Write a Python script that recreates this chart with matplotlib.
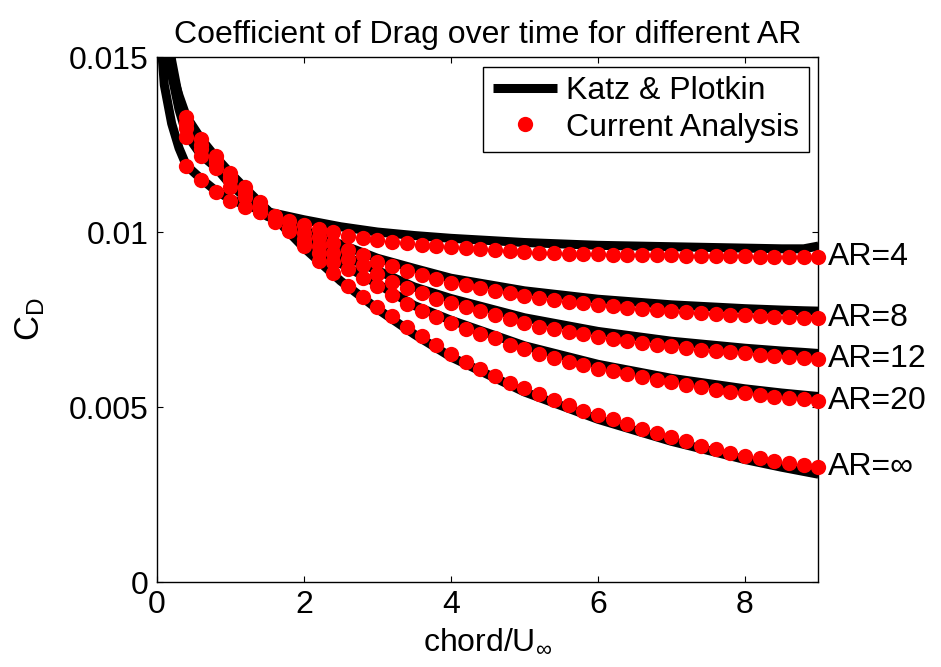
import numpy as np
import matplotlib
matplotlib.use("Agg")
import matplotlib.pyplot as plt

plt.rcParams['font.family'] = ['Liberation Sans', 'DejaVu Sans']
plt.rcParams['mathtext.fontset'] = 'custom'
plt.rcParams['mathtext.rm'] = 'Liberation Sans'
plt.rcParams['mathtext.it'] = 'Liberation Sans'
plt.rcParams['mathtext.bf'] = 'Liberation Sans'

# current analysis (markers), time = chord/U_inf
t_pts = np.round(np.arange(0.4, 9.01, 0.2), 2)

cd_ar4 = [0.01190, 0.01150, 0.01115, 0.01090, 0.01072, 0.01056, 0.01043, 0.01032,
          0.01020, 0.01010, 0.01000, 0.00990, 0.00983, 0.00977, 0.00972, 0.00968,
          0.00964, 0.00961, 0.00958, 0.00955, 0.00951, 0.00948, 0.00945, 0.00943,
          0.00941, 0.00939, 0.00938, 0.00937, 0.00936, 0.00935, 0.00934, 0.00934,
          0.00933, 0.00933, 0.00932, 0.00932, 0.00931, 0.00931, 0.00931, 0.00930,
          0.00930, 0.00930, 0.00929, 0.00929]
cd_ar8 = [0.01272, 0.01216, 0.01184, 0.01130, 0.01100, 0.01058, 0.01030, 0.01012,
          0.00998, 0.00985, 0.00969, 0.00950, 0.00933, 0.00914, 0.00903, 0.00888,
          0.00877, 0.00865, 0.00855, 0.00848, 0.00839, 0.00831, 0.00825, 0.00817,
          0.00811, 0.00806, 0.00801, 0.00796, 0.00792, 0.00788, 0.00784, 0.00780,
          0.00777, 0.00774, 0.00771, 0.00768, 0.00766, 0.00764, 0.00762, 0.00760,
          0.00758, 0.00757, 0.00755, 0.00754]
cd_ar12 = [0.01298, 0.01238, 0.01197, 0.01148, 0.01112, 0.01070, 0.01036, 0.01003,
           0.00980, 0.00960, 0.00940, 0.00923, 0.00905, 0.00881, 0.00858, 0.00840,
           0.00825, 0.00810, 0.00798, 0.00786, 0.00775, 0.00763, 0.00751, 0.00741,
           0.00730, 0.00722, 0.00715, 0.00708, 0.00701, 0.00695, 0.00689, 0.00684,
           0.00678, 0.00673, 0.00668, 0.00664, 0.00660, 0.00657, 0.00654, 0.00650,
           0.00646, 0.00643, 0.00640, 0.00637]
cd_ar20 = [0.01312, 0.01250, 0.01205, 0.01158, 0.01120, 0.01078, 0.01042, 0.01005,
           0.00970, 0.00940, 0.00914, 0.00893, 0.00869, 0.00845, 0.00819, 0.00794,
           0.00775, 0.00756, 0.00739, 0.00724, 0.00709, 0.00696, 0.00678, 0.00665,
           0.00652, 0.00641, 0.00630, 0.00620, 0.00610, 0.00603, 0.00594, 0.00586,
           0.00578, 0.00571, 0.00564, 0.00557, 0.00550, 0.00544, 0.00540, 0.00535,
           0.00530, 0.00526, 0.00522, 0.00518]
cd_arinf = [0.01328, 0.01266, 0.01216, 0.01170, 0.01128, 0.01086, 0.01046, 0.01008,
            0.00960, 0.00918, 0.00883, 0.00847, 0.00815, 0.00786, 0.00760, 0.00730,
            0.00702, 0.00677, 0.00652, 0.00630, 0.00609, 0.00589, 0.00570, 0.00553,
            0.00536, 0.00520, 0.00505, 0.00490, 0.00477, 0.00466, 0.00451, 0.00437,
            0.00425, 0.00415, 0.00403, 0.00390, 0.00380, 0.00370, 0.00361, 0.00353,
            0.00346, 0.00339, 0.00334, 0.00329]

# Katz & Plotkin reference curves
t_kp = [0, 0.1, 0.2, 0.3, 0.4, 0.6, 0.8, 1.0, 1.2, 1.5, 2.0, 2.5, 3.0, 3.5, 4.0,
        5.0, 6.0, 7.0, 8.0, 8.5, 8.8, 9.0]
kp_ar4 = [0.0170, 0.0142, 0.0131, 0.0124, 0.0119, 0.01152, 0.01118, 0.01094, 0.01077,
          0.01058, 0.01035, 0.01015, 0.01000, 0.00990, 0.00982, 0.00970, 0.00962,
          0.00958, 0.00954, 0.00952, 0.00952, 0.00960]
kp_ar8 = [0.0250, 0.0160, 0.0145, 0.0135, 0.0128, 0.0122, 0.01185, 0.01135, 0.0110,
          0.01045, 0.01005, 0.00965, 0.00925, 0.00896, 0.00868, 0.00832, 0.00808,
          0.00792, 0.00781, 0.00777, 0.00775, 0.00774]
kp_ar12 = [0.0250, 0.0162, 0.0147, 0.0137, 0.0130, 0.01242, 0.01198, 0.0115, 0.01113,
           0.01055, 0.00985, 0.00937, 0.00890, 0.00843, 0.00810, 0.00755, 0.00716,
           0.00688, 0.00668, 0.00660, 0.00656, 0.00653]
kp_ar20 = [0.0250, 0.0164, 0.0149, 0.0138, 0.01315, 0.01252, 0.01206, 0.0116, 0.01121,
           0.01062, 0.00975, 0.00910, 0.00852, 0.00790, 0.00748, 0.00675, 0.00622,
           0.00582, 0.00552, 0.00540, 0.00534, 0.00530]
kp_arinf = [0.0260, 0.0166, 0.0146, 0.0139, 0.01330, 0.01266, 0.01214, 0.01168, 0.01125,
            0.01063, 0.00955, 0.00860, 0.00780, 0.00708, 0.00643, 0.00543, 0.00465,
            0.00402, 0.00350, 0.00328, 0.00316, 0.00308]

ar_labels = ['AR=4', 'AR=8', 'AR=12', 'AR=20', 'AR=\u221e']
kp_all = [kp_ar4, kp_ar8, kp_ar12, kp_ar20, kp_arinf]
cd_all = [cd_ar4, cd_ar8, cd_ar12, cd_ar20, cd_arinf]

fs = 23

fig = plt.figure(figsize=(9.41, 6.67), dpi=100, facecolor='w')
ax = fig.add_axes([0.1668, 0.1274, 0.703, 0.7871])

for i, kp in enumerate(kp_all):
    ax.plot(t_kp, kp, color='k', lw=6.5, solid_capstyle='butt',
            label='Katz & Plotkin' if i == 0 else None, zorder=2)
for i, cd in enumerate(cd_all):
    ax.plot(t_pts, cd, 'o', color='#ff0000', ms=11, mec='none',
            label='Current Analysis' if i == 0 else None, zorder=3, clip_on=False)

for lab, cd in zip(ar_labels, cd_all):
    ax.text(9.13, cd[-1], lab, fontsize=fs, va='center', ha='left')

ax.set_xlim(0, 9)
ax.set_ylim(0, 0.015)
ax.set_xticks([0, 2, 4, 6, 8])
ax.set_yticks([0, 0.005, 0.01, 0.015])
ax.set_yticklabels(['0', '0.005', '0.01', '0.015'])
ax.tick_params(direction='in', length=4.5, width=0.8, top=True, right=True,
               labelsize=fs, pad=6)
for sp in ax.spines.values():
    sp.set_linewidth(1.0)

ax.set_title('Coefficient of Drag over time for different AR', fontsize=fs, pad=10)
ax.set_xlabel(r'chord/U$_\infty$', fontsize=fs, labelpad=5)
ax.set_ylabel(r'C$_\mathrm{D}$', fontsize=fs + 2, labelpad=16)

leg = ax.legend(loc='upper right', fontsize=fs, frameon=True, fancybox=False,
                edgecolor='k', framealpha=1, borderaxespad=0.3, handlelength=2.0,
                handletextpad=0.3, labelspacing=0.2, numpoints=1, borderpad=0.3)
leg.get_frame().set_linewidth(1.0)

fig.savefig('out.png', dpi=100)
